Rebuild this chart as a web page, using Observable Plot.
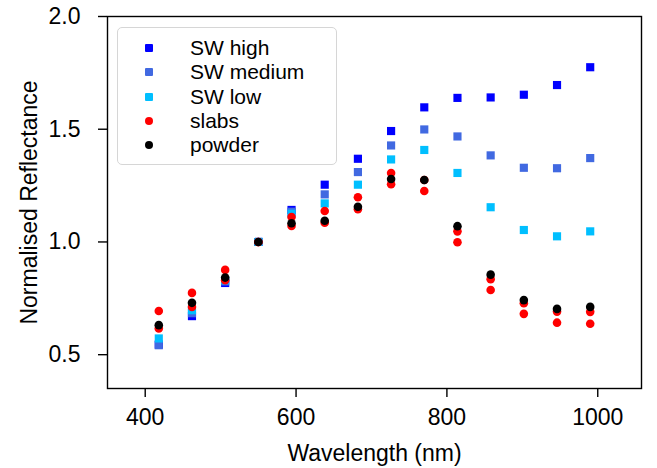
<!DOCTYPE html>
<html>
<head>
<meta charset="utf-8">
<script src="https://cdn.jsdelivr.net/npm/d3@7"></script>
<script src="https://cdn.jsdelivr.net/npm/@observablehq/plot@0.6"></script>
<style>
  body { margin: 0; background: #fff; }
  #wrap { position: relative; width: 657px; height: 468px; font-family: "Liberation Sans", Arial, Helvetica, sans-serif; }
  #legend { position: absolute; left: 117px; top: 27px; width: 220px; height: 138px; box-sizing: border-box;
            border: 1.5px solid #d6d6d6; border-radius: 5px; background: rgba(255,255,255,0.8); }
  .row { position: absolute; left: 0; height: 24px; width: 100%; }
  .mk { position: absolute; left: 27px; top: 8px; width: 8px; height: 8px; }
  .lbl { position: absolute; left: 72px; top: 0; line-height: 24px; font-size: 21px; color: #000; white-space: nowrap; }
</style>
</head>
<body>
<div id="wrap"><div id="chart"></div><div id="legend"></div></div>
<script>
// ---- data ----
const wavelength = [418, 462, 506, 550, 594, 638, 682, 726, 770, 814, 858, 902, 946, 990];
const swHigh    = [0.545, 0.671, 0.818, 1.0, 1.142, 1.254, 1.369, 1.492, 1.597, 1.639, 1.641, 1.653, 1.696, 1.775];
const swMedium  = [0.542, 0.684, 0.825, 1.0, 1.134, 1.211, 1.310, 1.428, 1.499, 1.468, 1.384, 1.329, 1.327, 1.372];
const swLow     = [0.572, 0.697, 0.830, 1.0, 1.125, 1.171, 1.254, 1.366, 1.408, 1.306, 1.154, 1.053, 1.025, 1.047];
const slabsA    = [0.694, 0.774, 0.876, 1.0, 1.111, 1.137, 1.198, 1.306, 1.275, 1.047, 0.835, 0.728, 0.691, 0.690];
const slabsB    = [0.616, 0.712, 0.830, 1.0, 1.071, 1.085, 1.145, 1.256, 1.226, 0.999, 0.787, 0.681, 0.642, 0.637];
const powder    = [0.631, 0.730, 0.842, 1.0, 1.083, 1.094, 1.156, 1.279, 1.275, 1.070, 0.855, 0.742, 0.703, 0.712];

const xTicks = [400, 600, 800, 1000];
const yTicks = [0.5, 1.0, 1.5, 2.0];
const xLabel = "Wavelength (nm)";
const yLabel = "Normalised Reflectance";

const seriesNames  = ["SW high", "SW medium", "SW low", "slabs", "slabs", "powder"];
const seriesValues = [swHigh, swMedium, swLow, slabsA, slabsB, powder];
const seriesColors = ["#0000ff", "#4169e1", "#00bfff", "#ff0000", "#ff0000", "#000000"];
const seriesSymbol = ["square", "square", "square", "circle", "circle", "circle"];

const legendNames  = ["SW high", "SW medium", "SW low", "slabs", "powder"];
const legendColors = ["#0000ff", "#4169e1", "#00bfff", "#ff0000", "#000000"];
const legendSymbol = ["square", "square", "square", "circle", "circle"];

// ---- build rows ----
const dotMarks = seriesValues.map((vals, i) => {
  const rows = wavelength.map((w, j) => ({wavelength: w, value: vals[j], series: seriesNames[i]}));
  return Plot.dot(rows, {
    x: "wavelength", y: "value",
    fill: seriesColors[i], stroke: "none",
    symbol: seriesSymbol[i],
    r: seriesSymbol[i] === "square" ? 4.6 : 4.3
  });
});

const font = '"Liberation Sans", Arial, Helvetica, sans-serif';

const chart = Plot.plot({
  width: 657, height: 468,
  marginLeft: 107, marginRight: 16, marginTop: 16, marginBottom: 80,
  style: {fontFamily: font, fontSize: "23px", color: "black", background: "white", overflow: "visible"},
  x: {domain: [350, 1058]},
  y: {domain: [0.35, 2.0]},
  marks: [
    ...dotMarks,
    Plot.frame({stroke: "black", strokeWidth: 1.4}),
    Plot.axisX({ticks: xTicks, tickFormat: d3.format("d"), tickSize: 9, tickPadding: 11, strokeWidth: 1.4, fontSize: 23,
                label: xLabel, labelAnchor: "center", labelArrow: "none", labelOffset: 72}),
    Plot.axisY({ticks: yTicks, tickFormat: d3.format(".1f"), tickSize: 9, tickPadding: 18, strokeWidth: 1.4, fontSize: 23,
                label: yLabel, labelAnchor: "center", labelArrow: "none", labelOffset: 87})
  ]
});
document.getElementById("chart").appendChild(chart);

// ---- legend ----
const legend = document.getElementById("legend");
const rowCenters = [20, 44, 68.5, 92.5, 117];
legendNames.forEach((name, i) => {
  const row = document.createElement("div");
  row.className = "row";
  row.style.top = (rowCenters[i] - 12) + "px";
  const mk = document.createElement("div");
  mk.className = "mk";
  mk.style.background = legendColors[i];
  if (legendSymbol[i] === "circle") mk.style.borderRadius = "50%";
  else mk.style.borderRadius = "1px";
  const lbl = document.createElement("div");
  lbl.className = "lbl";
  lbl.textContent = name;
  row.appendChild(mk); row.appendChild(lbl);
  legend.appendChild(row);
});
</script>
</body>
</html>
